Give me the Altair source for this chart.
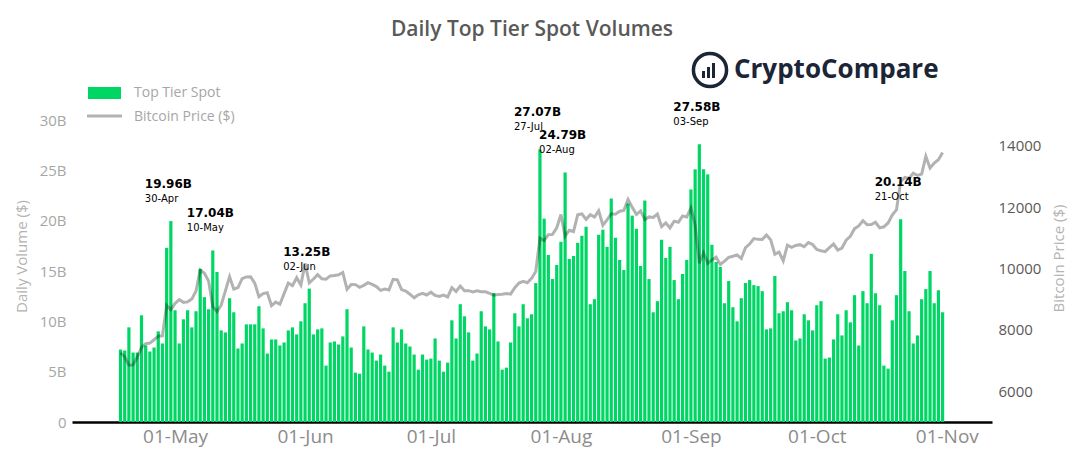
import altair as alt
import pandas as pd

# ---- data -------------------------------------------------------------
dates = pd.date_range("2020-04-18", "2020-10-31", freq="D").strftime("%Y-%m-%d").tolist()

# daily top-tier spot volume, billions of USD
volume_b = [
    # Apr 18 - Apr 30
    7.2, 7.1, 9.4, 6.9, 6.9, 10.6, 7.6, 7.0, 7.4, 9.0, 7.8, 17.3, 19.96,
    # May
    11.1, 7.8, 10.2, 11.1, 9.4, 11.0, 15.2, 12.4, 11.2, 17.04, 14.9, 9.1, 8.9, 12.3, 10.9, 7.3,
    7.8, 9.7, 9.7, 9.7, 11.5, 9.3, 6.8, 8.2, 8.2, 7.6, 7.9, 9.1, 9.4, 8.7, 10.0,
    # Jun
    11.8, 13.25, 8.7, 9.2, 9.3, 5.6, 7.9, 8.0, 7.7, 8.5, 11.2, 7.4, 4.9, 4.8, 9.5,
    7.2, 6.9, 6.1, 6.7, 5.6, 5.0, 9.4, 7.9, 9.2, 7.8, 7.5, 6.7, 5.2, 6.7, 6.2,
    # Jul
    6.3, 8.3, 6.1, 5.0, 5.9, 10.1, 8.3, 11.7, 10.5, 8.9, 6.1, 6.8, 11.0, 9.5, 9.2, 12.8,
    8.0, 5.2, 5.4, 7.9, 10.8, 9.5, 11.7, 10.3, 10.7, 13.8, 27.07, 20.2, 16.6, 14.2, 15.6,
    # Aug
    17.9, 24.79, 16.2, 16.5, 17.8, 18.5, 19.4, 11.7, 12.2, 18.6, 19.1, 17.4, 22.2, 18.3, 16.1, 15.1,
    21.7, 20.5, 19.2, 15.5, 22.0, 14.2, 10.9, 12.0, 18.1, 16.3, 17.4, 14.1, 12.2, 14.7, 16.1,
    # Sep
    23.1, 25.1, 27.58, 25.1, 24.6, 17.6, 15.9, 15.4, 11.8, 14.0, 11.4, 10.0, 12.3, 13.8, 14.1,
    13.6, 13.5, 13.0, 9.2, 9.3, 14.5, 10.8, 11.0, 11.9, 11.1, 8.1, 8.3, 10.7, 10.1, 9.1,
    # Oct
    11.6, 12.0, 6.3, 6.4, 8.2, 10.7, 8.6, 11.1, 9.9, 12.6, 7.6, 13.0, 11.8, 16.7, 12.8, 11.6,
    5.6, 5.3, 10.1, 12.6, 20.14, 15.0, 11.0, 7.8, 8.6, 12.2, 13.2, 15.0, 11.8, 13.1, 10.9,
]

# bitcoin daily close, USD
btc_price = [
    7258, 7118, 6850, 6860, 7117, 7429, 7550, 7570, 7679, 7795, 7807, 8801, 8658,
    8864, 8988, 8898, 8913, 9004, 9268, 9951, 9842, 9593, 8756, 8601, 8804, 9269, 9734, 9328, 9377,
    9670, 9727, 9730, 9523, 9081, 9182, 9210, 8790, 8906, 8835, 9181, 9525, 9439, 9700, 9461,
    10167, 9529, 9657, 9800, 9665, 9653, 9758, 9771, 9795, 9870, 9321, 9480, 9475, 9386, 9450,
    9538, 9480, 9411, 9288, 9332, 9303, 9648, 9629, 9314, 9264, 9162, 9045, 9143, 9190, 9137,
    9228, 9123, 9087, 9132, 9073, 9375, 9252, 9428, 9277, 9278, 9240, 9277, 9243, 9243, 9192, 9132,
    9151, 9159, 9185, 9164, 9374, 9525, 9581, 9536, 9677, 9905, 10990, 10912, 11100, 11111, 11323,
    11759, 11053, 11246, 11205, 11747, 11779, 11601, 11754, 11675, 11878, 11410, 11584, 11784, 11769, 11865, 11892,
    12254, 11991, 11758, 11878, 11592, 11681, 11664, 11774, 11366, 11488, 11323, 11542, 11507, 11711, 11680,
    11970, 11414, 10170, 10511, 10169, 10280, 10370, 10131, 10243, 10364, 10400, 10443, 10324, 10681, 10797,
    10975, 10949, 10944, 11094, 10939, 10463, 10538, 10246, 10761, 10692, 10751, 10776, 10709, 10845, 10784,
    10620, 10576, 10550, 10677, 10797, 10603, 10668, 10925, 11051, 11297, 11385, 11556, 11428, 11429, 11506, 11322,
    11358, 11483, 11742, 11916, 12823, 12965, 12932, 13108, 13031, 13075, 13654, 13271, 13437, 13546, 13781,
]

peak_days = ["2020-04-30", "2020-05-10", "2020-06-02", "2020-07-27",
             "2020-08-02", "2020-09-03", "2020-10-21"]

legend_labels = ["Top Tier Spot", "Bitcoin Price ($)"]
vol_ticks = [0, 5, 10, 15, 20, 25, 30]
price_ticks = [6000, 8000, 10000, 12000, 14000]

df = pd.DataFrame({"date": dates, "volume": volume_b, "price": btc_price})
peaks = df[df["date"].isin(peak_days)].copy()
peaks["value_label"] = peaks["volume"].map(lambda v: f"{v:.2f}B")
peaks["date_label"] = pd.to_datetime(peaks["date"]).dt.strftime("%d-%b")

# ---- styling ----------------------------------------------------------
GREEN = "#00d664"
NAVY = "#1b2536"
FONT = "Open Sans"
W, H = 920, 302

x_scale = alt.Scale(
    type="utc",
    domain=[alt.DateTime(year=2020, month=4, date=7, hours=15, utc=True),
            alt.DateTime(year=2020, month=11, date=10, hours=14, utc=True)],
)
month_ticks = [alt.DateTime(year=2020, month=m, date=1, utc=True) for m in range(5, 12)]
vol_scale = alt.Scale(domain=[0, 30], nice=False, zero=True)
price_scale = alt.Scale(domain=[5000, 14837], nice=False, zero=False)

x_axis = alt.Axis(
    values=month_ticks, labelExpr="utcFormat(datum.value, '%d-%b')", title=None,
    grid=False, ticks=False, domainColor="black", domainWidth=2.5,
    labelColor="#8c8c8c", labelFont=FONT, labelFontSize=19, labelPadding=5,
)

vol_axis = alt.Axis(
    values=vol_ticks, labelExpr="datum.value == 0 ? '0' : datum.value + 'B'",
    grid=False, domain=False, ticks=False, labelPadding=6,
    labelColor="#a6a6a6", labelFont=FONT, labelFontSize=15,
    title="Daily Volume ($)", titleFont=FONT, titleFontSize=15, titleFontWeight="normal",
    titleColor="#b3b3b3", titleAngle=270, titleX=-51, titleY=136,
    titleAlign="center", titleBaseline="middle",
)

price_axis = alt.Axis(
    orient="right", values=price_ticks, format="d",
    grid=False, domain=False, ticks=False, labelPadding=6,
    labelColor="#595959", labelFont=FONT, labelFontSize=15,
    title="Bitcoin Price ($)", titleFont=FONT, titleFontSize=15, titleFontWeight="normal",
    titleColor="#b3b3b3", titleAngle=270, titleX=66, titleY=138,
    titleAlign="center", titleBaseline="middle",
)

X = alt.X("date:T", scale=x_scale, axis=x_axis)
Y_VOL = alt.Y("volume:Q", scale=vol_scale, axis=vol_axis)

# ---- marks ------------------------------------------------------------
bars = alt.Chart(df).mark_bar(size=3.2, color=GREEN).encode(x=X, y=Y_VOL)

value_text = alt.Chart(peaks).mark_text(
    align="left", baseline="middle", dx=-26, dy=-37,
    font="DejaVu Sans", fontWeight="bold", fontSize=12, color="black",
).encode(x=X, y=Y_VOL, text="value_label:N")

date_text = alt.Chart(peaks).mark_text(
    align="left", baseline="middle", dx=-26, dy=-22,
    font="DejaVu Sans", fontSize=10, color="black",
).encode(x=X, y=Y_VOL, text="date_label:N")

volume_layer = alt.layer(bars, value_text, date_text)

price_line = alt.Chart(df).mark_line(color="black", opacity=0.3, strokeWidth=3).encode(
    x=X,
    y=alt.Y("price:Q", scale=price_scale, axis=price_axis),
)

one = alt.Data(values=[{"k": 0}])

title = alt.Chart(one).mark_text(
    font=FONT, fontSize=21, fontWeight=600, color="#595959",
    align="center", baseline="middle",
).encode(x=alt.value(460), y=alt.value(-90), text=alt.value("Daily Top Tier Spot Volumes"))

# brand mark: ring with a small bar glyph, then the word mark
logo_ring = alt.Chart(one).mark_point(
    shape="circle", filled=False, size=1100, strokeWidth=3.5, color=NAVY, opacity=1,
).encode(x=alt.value(638), y=alt.value(-50))
logo_bar1 = alt.Chart(one).mark_rect(color=NAVY).encode(
    x=alt.value(630), x2=alt.value(633), y=alt.value(-49), y2=alt.value(-42))
logo_bar2 = alt.Chart(one).mark_rect(color=NAVY).encode(
    x=alt.value(635), x2=alt.value(638), y=alt.value(-53), y2=alt.value(-42))
logo_bar3 = alt.Chart(one).mark_rect(color=NAVY).encode(
    x=alt.value(640), x2=alt.value(643), y=alt.value(-57), y2=alt.value(-42))
logo_text = alt.Chart(one).mark_text(
    font=FONT, fontSize=26, fontWeight="bold", color=NAVY,
    align="left", baseline="middle",
).encode(x=alt.value(662), y=alt.value(-50), text=alt.value("CryptoCompare"))

# legend
leg_swatch = alt.Chart(one).mark_rect(color=GREEN).encode(
    x=alt.value(16), x2=alt.value(49), y=alt.value(-33), y2=alt.value(-21))
leg_line = alt.Chart(one).mark_rule(color="black", opacity=0.3, strokeWidth=3).encode(
    x=alt.value(15), x2=alt.value(50), y=alt.value(-4))
leg_text1 = alt.Chart(one).mark_text(
    font=FONT, fontSize=14, color="#a6a6a6", align="left", baseline="middle",
).encode(x=alt.value(62), y=alt.value(-27), text=alt.value(legend_labels[0]))
leg_text2 = alt.Chart(one).mark_text(
    font=FONT, fontSize=14, color="#a6a6a6", align="left", baseline="middle",
).encode(x=alt.value(62), y=alt.value(-3), text=alt.value(legend_labels[1]))

chart = alt.layer(
    volume_layer, price_line,
    title, logo_ring, logo_bar1, logo_bar2, logo_bar3, logo_text,
    leg_swatch, leg_line, leg_text1, leg_text2,
).resolve_scale(y="independent").properties(
    width=W, height=H,
    padding={"left": 72, "top": 120, "right": 84, "bottom": 45},
    autosize=alt.AutoSizeParams(type="none"),
    background="white",
).configure_view(strokeWidth=0)

chart.save("out.html", embed_options={"renderer": "svg", "actions": False})
